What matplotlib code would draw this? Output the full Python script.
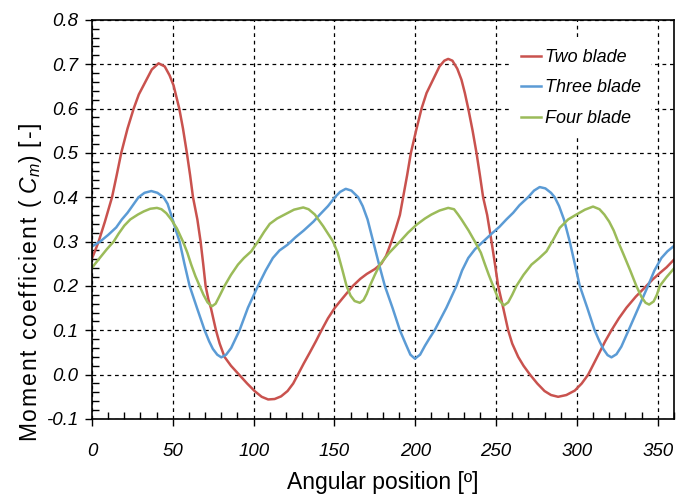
import matplotlib.pyplot as plt
from matplotlib.ticker import MultipleLocator, FormatStrFormatter
from matplotlib import font_manager

# moment coefficient vs angular position
two_x = [0, 2, 4.1, 8, 12.4, 15.3, 18.1, 22, 25.8, 29, 33, 37, 41.2, 45, 48, 50.5, 54, 56.3, 58.7,
         60.7, 62.5, 65.2, 67.2, 68.8, 70.3, 72, 73.6, 76.7, 79, 82, 86, 91, 96, 100.6, 105, 109,
         113, 117, 121, 124.5, 127.4, 131, 134.8, 138.5, 142, 146, 150.3, 155, 161.4, 166, 170,
         175, 179, 182, 185.3, 188, 190.5, 192.5, 195, 197.3, 200.5, 203.9, 207, 211, 215, 218,
         220.4, 223, 226, 228.6, 230.7, 232.8, 235.5, 237.9, 240, 242, 244.5, 247.2, 249.3, 251.3,
         254.4, 257.5, 260, 263.7, 267, 271, 275.5, 280, 284, 288.4, 293.5, 298.7, 303, 307,
         310.5, 314, 317.5, 321.4, 326, 330.7, 336.5, 343, 347, 351.3, 355.5, 360]
two_y = [0.262, 0.28, 0.30, 0.345, 0.40, 0.45, 0.50, 0.555, 0.60, 0.632, 0.66, 0.688, 0.702,
         0.695, 0.675, 0.652, 0.60, 0.555, 0.50, 0.45, 0.40, 0.35, 0.30, 0.25, 0.20, 0.17, 0.15,
         0.10, 0.07, 0.04, 0.02, 0.0, -0.02, -0.037, -0.05, -0.056, -0.055, -0.049, -0.037,
         -0.02, 0.0, 0.025, 0.05, 0.075, 0.10, 0.127, 0.151, 0.172, 0.20, 0.216, 0.227, 0.238,
         0.25, 0.268, 0.30, 0.33, 0.36, 0.40, 0.45, 0.50, 0.55, 0.60, 0.635, 0.665, 0.695, 0.708,
         0.712, 0.708, 0.69, 0.665, 0.635, 0.60, 0.55, 0.50, 0.45, 0.40, 0.36, 0.30, 0.25, 0.20,
         0.151, 0.10, 0.07, 0.04, 0.02, 0.0, -0.02, -0.037, -0.046, -0.05, -0.046, -0.036, -0.02,
         0.0, 0.025, 0.05, 0.075, 0.10, 0.127, 0.151, 0.176, 0.20, 0.215, 0.229, 0.242, 0.259]

three_x = [0, 5, 10, 15, 18.5, 22, 25.5, 28.8, 32.5, 36.7, 40.5, 44.3, 46.8, 49, 51.5, 54.2, 57.2,
           60.4, 65, 69.7, 72.5, 74.8, 77.5, 80, 83, 86.1, 88.7, 91.3, 96.5, 102.7, 107.5, 111.9,
           116, 121, 126, 131, 137, 141, 146, 150.3, 153.5, 157, 160.5, 164.7, 167.5, 170.5, 174,
           177.5, 181.2, 186, 190.5, 194, 197, 199.8, 203, 206, 209, 212, 219.3, 225.5, 229,
           232.8, 237, 242, 247, 252, 256.4, 260.6, 264.5, 269.8, 273.5, 277, 280.5, 284, 286.3,
           289, 292, 295.6, 298.7, 301.8, 306.5, 311, 314, 316.5, 319, 321.4, 324.5, 327.5, 332,
           338, 344, 348, 352.3, 356, 360]
three_y = [0.289, 0.30, 0.315, 0.332, 0.35, 0.365, 0.383, 0.40, 0.41, 0.414, 0.41, 0.40,
           0.385, 0.36, 0.33, 0.30, 0.25, 0.20, 0.15, 0.10, 0.075, 0.058, 0.045, 0.039, 0.045,
           0.06, 0.08, 0.10, 0.151, 0.20, 0.235, 0.263, 0.28, 0.293, 0.31, 0.325, 0.345, 0.361,
           0.38, 0.40, 0.412, 0.419, 0.415, 0.40, 0.38, 0.35, 0.30, 0.25, 0.20, 0.15, 0.10, 0.07,
           0.045, 0.036, 0.045, 0.065, 0.083, 0.10, 0.151, 0.20, 0.235, 0.263, 0.283, 0.30, 0.317,
           0.333, 0.35, 0.365, 0.382, 0.40, 0.415, 0.423, 0.42, 0.41, 0.40, 0.38, 0.35, 0.30,
           0.25, 0.20, 0.15, 0.10, 0.075, 0.057, 0.044, 0.039, 0.046, 0.063, 0.10, 0.15, 0.20,
           0.235, 0.263, 0.278, 0.29]

four_x = [0, 4.8, 9, 13.4, 16.5, 20, 23.7, 28.4, 32, 36, 40.2, 43, 46, 49, 52.5, 56.3, 59, 61.4,
          64, 66.6, 69, 71.5, 74.2, 76.5, 79, 82, 86, 90.3, 94, 98.5, 102.7, 106.5, 110, 114.5,
          119.2, 125, 130.7, 134, 137.9, 140, 143, 146, 149.2, 152, 155, 157.5, 160, 162.5, 165.7,
          168, 170, 171.9, 175, 178.1, 184, 190.5, 195.5, 200.8, 206, 210, 215, 220.4, 224, 226.5,
          228.6, 233, 236.9, 240.6, 243, 245.5, 248.2, 251.5, 254.8, 257.5, 260, 262.6, 267,
          271.9, 276.5, 281.2, 285.5, 289.4, 294.6, 299.7, 305, 310, 314, 317, 320, 322.8, 325.5,
          329, 333, 336.8, 340, 342.5, 344.7, 347.5, 349.5, 351.3, 355.5, 360]
four_y = [0.241, 0.263, 0.282, 0.30, 0.318, 0.336, 0.35, 0.361, 0.368, 0.374, 0.376, 0.373,
          0.364, 0.35, 0.33, 0.30, 0.275, 0.248, 0.222, 0.20, 0.18, 0.163, 0.154, 0.16, 0.178,
          0.20, 0.225, 0.248, 0.263, 0.278, 0.30, 0.322, 0.34, 0.352, 0.361, 0.372, 0.377, 0.373,
          0.361, 0.35, 0.335, 0.318, 0.30, 0.275, 0.235, 0.20, 0.178, 0.166, 0.162, 0.168, 0.182,
          0.20, 0.225, 0.248, 0.275, 0.30, 0.32, 0.338, 0.352, 0.361, 0.37, 0.376, 0.373, 0.361,
          0.35, 0.325, 0.30, 0.275, 0.25, 0.225, 0.20, 0.17, 0.156, 0.163, 0.18, 0.20, 0.225,
          0.248, 0.262, 0.278, 0.305, 0.331, 0.35, 0.361, 0.372, 0.379, 0.373, 0.361, 0.345,
          0.325, 0.30, 0.27, 0.235, 0.20, 0.175, 0.162, 0.158, 0.165, 0.18, 0.20, 0.22, 0.239]

names = ['Two blade', 'Three blade', 'Four blade']
colors = ['#C9524E', '#5B9BD5', '#9BBB59']

installed = {f.name for f in font_manager.fontManager.ttflist}
narrow = 'Liberation Sans Narrow' if 'Liberation Sans Narrow' in installed else 'Liberation Sans'
plt.rcParams['font.family'] = [narrow, 'DejaVu Sans']
plt.rcParams['mathtext.fontset'] = 'custom'
plt.rcParams['mathtext.it'] = narrow + ':italic'
plt.rcParams['mathtext.rm'] = narrow

fig = plt.figure(figsize=(6.89, 4.97), dpi=100)
ax = fig.add_axes([0.1335, 0.157, 0.8445, 0.803])

for xs, ys, name, c in zip([two_x, three_x, four_x], [two_y, three_y, four_y], names, colors):
    ax.plot(xs, ys, color=c, lw=1.8, label=name, solid_joinstyle='round')

ax.set_xlim(0, 360)
ax.set_ylim(-0.1, 0.8)
ax.xaxis.set_major_locator(MultipleLocator(50))
ax.xaxis.set_minor_locator(MultipleLocator(10))
ax.yaxis.set_major_locator(MultipleLocator(0.1))
ax.yaxis.set_minor_locator(MultipleLocator(0.02))
ax.yaxis.set_major_formatter(FormatStrFormatter('%.1f'))
ax.tick_params(which='major', direction='out', length=5, width=1, labelsize=13.5, pad=5)
ax.tick_params(which='minor', direction='in', length=5, width=1)
ax.tick_params(axis='x', which='major', pad=12)
for lab in ax.get_xticklabels() + ax.get_yticklabels():
    lab.set_fontstyle('italic')

ax.grid(True, which='major', color='black', linestyle=(0, (3, 3)), linewidth=0.9)
for s in ax.spines.values():
    s.set_linewidth(1.2)

ax.set_xlabel('Angular position [º]', fontsize=16.5, labelpad=8)
ylab = '\u200a'.join('Moment coefficient (') + ' $C_m$) \u200a[\u200a-\u200a]'
ax.set_ylabel(ylab, fontsize=16.5)
ax.yaxis.set_label_coords(-0.083, 0.343)

leg = ax.legend(loc='upper left', bbox_to_anchor=(0.722, 0.95), frameon=True, fancybox=False,
                edgecolor='none', facecolor='white', framealpha=1, fontsize=13,
                handlelength=1.1, handletextpad=0.25, labelspacing=0.75, borderpad=0.5,
                borderaxespad=0)
for t in leg.get_texts():
    t.set_fontstyle('italic')

fig.savefig('out.png', dpi=100)
